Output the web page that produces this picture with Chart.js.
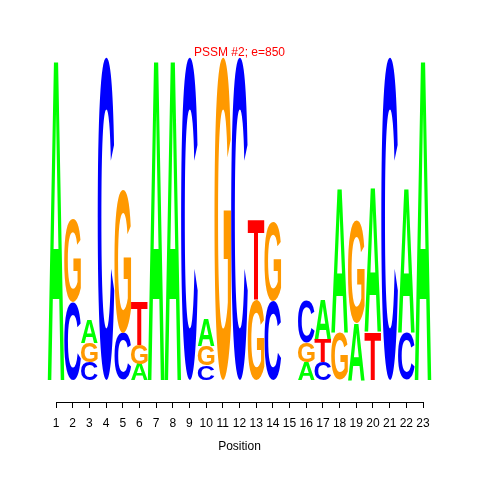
<!DOCTYPE html>
<html>
<head>
<meta charset="utf-8">
<script src="https://cdn.jsdelivr.net/npm/chart.js@4"></script>
<style>
  html, body { margin: 0; padding: 0; background: #fff; }
  #wrap { width: 480px; height: 480px; }
</style>
</head>
<body>
<div id="wrap"><canvas id="logo" width="480" height="480"></canvas></div>
<script>
// motif positions (x axis)
const positions = [1, 2, 3, 4, 5, 6, 7, 8, 9, 10, 11, 12, 13, 14, 15, 16, 17, 18, 19, 20, 21, 22, 23];

// letter heights in bits
const heightA = [2.00, 0, 0.14, 0, 0, 0.10, 2.00, 2.00, 0, 0.17, 0, 0, 0, 0, 0, 0.11, 0.25, 0.90, 0.35, 0.90, 0, 0.90, 2.00];
const heightC = [0, 0.48, 0.11, 2.00, 0.29, 0, 0, 0, 2.00, 0.09, 0, 2.00, 0, 0.49, 0, 0.26, 0.11, 0, 0, 0, 2.00, 0.29, 0];
const heightG = [0, 0.51, 0.12, 0, 0.89, 0.12, 0, 0, 0, 0.12, 2.00, 0, 0.50, 0.49, 0, 0.12, 0, 0.29, 0.64, 0, 0, 0, 0];
const heightT = [0, 0, 0, 0, 0, 0.27, 0, 0, 0, 0, 0, 0, 0.50, 0, 0, 0, 0.14, 0, 0, 0.30, 0, 0, 0];

const letters = ['A', 'C', 'G', 'T'];
const letterColors = { A: '#00ff00', C: '#0000ff', G: '#ff9900', T: '#ff0000' };
const heights = { A: heightA, C: heightC, G: heightG, T: heightT };

// stack each column smallest letter at the bottom
const ranges = { A: [], C: [], G: [], T: [] };
positions.forEach((p, i) => {
  const col = letters.map(l => ({ l: l, h: heights[l][i] })).sort((a, b) => a.h - b.h);
  let base = 0;
  col.forEach(c => {
    ranges[c.l].push({ x: p, y: [base, base + c.h] });
    base += c.h;
  });
});

const glyphPlugin = {
  id: 'glyphs',
  afterDatasetsDraw(chart) {
    const ctx = chart.ctx;
    chart.data.datasets.forEach((ds, di) => {
      const meta = chart.getDatasetMeta(di);
      meta.data.forEach(el => {
        const p = el.getProps(['x', 'y', 'base', 'width'], true);
        const top = Math.min(p.y, p.base);
        const h = Math.abs(p.base - p.y);
        if (h < 0.5) return;
        ctx.save();
        ctx.font = 'bold 100px "Liberation Sans", Arial, sans-serif';
        ctx.textAlign = 'left';
        ctx.textBaseline = 'alphabetic';
        const m = ctx.measureText(ds.label);
        const bw = m.actualBoundingBoxLeft + m.actualBoundingBoxRight;
        const bh = m.actualBoundingBoxAscent + m.actualBoundingBoxDescent;
        ctx.translate(p.x - p.width / 2, top + h);
        ctx.scale(p.width / bw, h / bh);
        ctx.fillStyle = ds.glyphColor;
        ctx.fillText(ds.label, m.actualBoundingBoxLeft, -m.actualBoundingBoxDescent);
        ctx.restore();
      });
    });
  }
};

new Chart(document.getElementById('logo'), {
  type: 'bar',
  data: {
    datasets: letters.map(l => ({
      label: l,
      data: ranges[l],
      glyphColor: letterColors[l],
      backgroundColor: 'rgba(0,0,0,0)',
      borderWidth: 0,
      grouped: false,
      barPercentage: 1,
      categoryPercentage: 1
    }))
  },
  options: {
    responsive: false,
    animation: false,
    layout: { padding: { left: 56, right: 57, top: 0, bottom: 27 } },
    plugins: {
      legend: { display: false },
      tooltip: { enabled: false },
      title: {
        display: true,
        text: 'PSSM #2; e=850',
        color: '#ff0000',
        font: { family: '"Liberation Sans", Arial, sans-serif', size: 12, weight: 'normal', lineHeight: 1 },
        padding: { top: 47, bottom: 0 }
      }
    },
    scales: {
      x: {
        type: 'linear',
        min: 1,
        max: 23,
        offset: false,
        grid: { display: true, drawOnChartArea: false, drawTicks: true, tickLength: 6, color: '#000', offset: false },
        border: { display: true, color: '#000' },
        ticks: {
          stepSize: 1,
          autoSkip: false,
          maxRotation: 0,
          padding: 10,
          color: '#000',
          font: { family: '"Liberation Sans", Arial, sans-serif', size: 12, lineHeight: 1 }
        },
        title: {
          display: true,
          text: 'Position',
          color: '#000',
          font: { family: '"Liberation Sans", Arial, sans-serif', size: 12, lineHeight: 1 },
          padding: { top: 1, bottom: 0 }
        }
      },
      y: {
        display: false,
        min: -0.136,
        max: 1.988
      }
    }
  },
  plugins: [glyphPlugin]
});
</script>
</body>
</html>
